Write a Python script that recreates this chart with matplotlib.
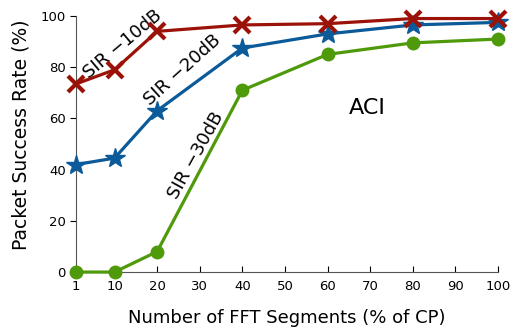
import matplotlib
matplotlib.use("Agg")
import matplotlib.pyplot as plt

segments = [1, 10, 20, 40, 60, 80, 100]
sir_10 = [73.5, 79, 94, 96.5, 97, 99, 99]
sir_20 = [42, 44.5, 63, 87.5, 93, 96.5, 97.5]
sir_30 = [0, 0, 8, 71, 85, 89.5, 91]
xticks = [1, 10, 20, 30, 40, 50, 60, 70, 80, 90, 100]

fig = plt.figure(figsize=(5.15, 3.33), dpi=100)
ax = fig.add_axes([0.148, 0.183, 0.819, 0.769])

ax.plot(segments, sir_10, color='#9b1208', lw=2.3, marker='x', ms=11, mew=3, clip_on=False, zorder=5)
ax.plot(segments, sir_20, color='#0b5a99', lw=2.3, marker='*', ms=15, clip_on=False, zorder=4)
ax.plot(segments, sir_30, color='#4f9a0a', lw=2.3, marker='o', ms=9, clip_on=False, zorder=3)

ax.set_xlim(1, 100)
ax.set_ylim(0, 100)
ax.set_xticks(xticks)
ax.set_yticks([0, 20, 40, 60, 80, 100])
ax.spines['top'].set_visible(False)
ax.spines['right'].set_visible(False)
for s in ['left', 'bottom']:
    ax.spines[s].set_color('#555555')
ax.tick_params(axis='x', direction='in', length=4, labelsize=9.5, pad=6)
ax.tick_params(axis='y', direction='out', length=4, labelsize=9.5)

ax.set_xlabel('Number of FFT Segments (% of CP)', fontsize=13, labelpad=11)
ax.set_ylabel('Packet Success Rate (%)', fontsize=13.5)
ax.yaxis.set_label_coords(-0.108, 0.535)

ax.text(12, 89, 'SIR −10dB', rotation=40, fontsize=13, ha='center', va='center')
ax.text(26, 79, 'SIR −20dB', rotation=42, fontsize=13, ha='center', va='center')
ax.text(29.2, 45.5, 'SIR −30dB', rotation=61, fontsize=13, ha='center', va='center')
ax.text(69.3, 64, 'ACI', fontsize=16, ha='center', va='center')

fig.savefig('out.png', dpi=100)
